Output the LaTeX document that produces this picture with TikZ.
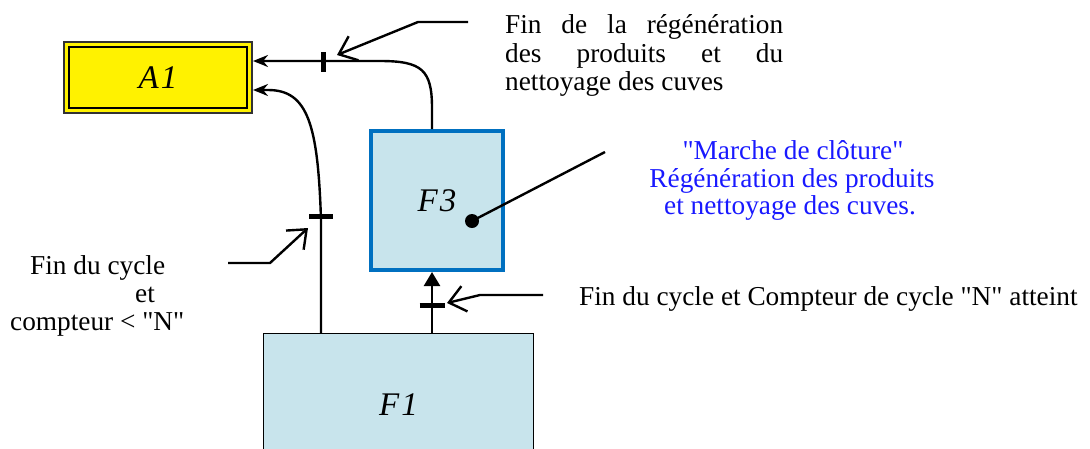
\documentclass[tikz,border=0pt]{standalone}
\usepackage{fontspec}
\setmainfont{Liberation Serif}[Ligatures=TeXOff]
\usetikzlibrary{arrows.meta}
\definecolor{boxfill}{RGB}{200,228,236}
\definecolor{boxblue}{RGB}{0,112,192}
\definecolor{txtblue}{RGB}{25,25,255}
\definecolor{darkframe}{RGB}{50,50,50}
\newcommand{\sq}{\char34\relax}
\begin{document}
\begin{tikzpicture}[x=1pt,y=-1pt,
  lbl/.style={font=\fontsize{27.3}{30}\selectfont, inner sep=0pt},
  bigit/.style={font=\fontsize{33}{36}\selectfont\itshape, inner sep=0pt},
  conn/.style={line width=2.4pt},
  pointer/.style={line width=2.4pt, -{Straight Barb[length=16pt,width=26pt]}, line join=miter},
  tickmark/.style={line width=5pt},
  headA/.style={-{Stealth[length=15pt,width=12pt]}},
  headB/.style={-{Triangle[length=14pt,width=16pt]}},
]
\useasboundingbox (0,0) rectangle (1090,448);

% boxes
\node[draw=darkframe, line width=2pt, fill=yellow, minimum width=188pt, minimum height=71pt, bigit] (A1) at (158,77.5) {A\kern2pt 1};
\draw[line width=2pt] ([shift={(6,6)}]A1.north west) rectangle ([shift={(-6,-6)}]A1.south east);
\node[draw=boxblue, line width=4pt, fill=boxfill, minimum width=132pt, minimum height=139pt, bigit] (F3) at (437,200.5) {F\kern2pt 3};
\node[draw=black, line width=1.5pt, fill=boxfill, minimum width=270pt, minimum height=142pt, bigit] (F1) at (398.5,404.5) {F\kern2pt 1};

% anchors for connectors
\coordinate (f3top) at ([shift={(-5,0)}]F3.north);
\coordinate (f3bot) at ([shift={(-5,0)}]F3.south);
\coordinate (a1up) at ([shift={(0,-16.5)}]A1.east);
\coordinate (a1lo) at ([shift={(0,12.5)}]A1.east);
\coordinate (lx) at (321,0);

% connectors
\draw[conn, headA] (f3top) -- (432,108) .. controls (432,70) and (422,61) .. (380,61) -- (a1up);
\draw[conn, headA] (F1.north -| lx) -- (321,220) .. controls (318,125) and (308,90) .. (268,90) -- (a1lo);
\draw[conn, headB] (F1.north -| f3bot) -- (f3bot);

% transition ticks
\draw[tickmark] (323,52) -- (323,72);
\draw[tickmark] (309,216) -- (333,216);
\draw[tickmark] (419.5,305) -- (444.5,305);

% pointers
\coordinate (p1a) at (468,22);
\coordinate (p1b) at (418,22);
\coordinate (p1c) at (337,55);
\draw[pointer] (p1a) -- (p1b) -- (p1c);
\coordinate (p2a) at (228,263);
\coordinate (p2b) at (270,263);
\coordinate (p2c) at (308,228);
\draw[pointer] (p2a) -- (p2b) -- (p2c);
\coordinate (p3a) at (543,295);
\coordinate (p3b) at (480,295);
\coordinate (p3c) at (447,303);
\draw[pointer] (p3a) -- (p3b) -- (p3c);
\node[circle, fill=black, inner sep=0pt, minimum size=14pt] (dot) at (472,221) {};
\coordinate (dotend) at (605,152);
\draw[line width=2.4pt] (dot.center) -- (dotend);

% texts
\node[lbl, anchor=base west] (t1) at (505,33) {\makebox[278pt][s]{Fin de la régénération}};
\node[lbl, anchor=base west] (t2) at (505,62) {\makebox[278pt][s]{des produits et du}};
\node[lbl, anchor=base west] (t3) at (505,90) {nettoyage des cuves};

\node[lbl, text=txtblue, anchor=base] (b1) at (793,159) {\sq Marche de clôture\sq};
\node[lbl, text=txtblue, anchor=base] (b2) at (792,187) {Régénération des produits};
\node[lbl, text=txtblue, anchor=base] (b3) at (790,214) {et nettoyage des cuves.};

\node[lbl, anchor=base west] (r1) at (579,305) {Fin du cycle et Compteur de cycle \sq N\sq{} atteint};

\node[lbl, anchor=base west] (l1) at (30,274) {Fin du cycle};
\node[lbl, anchor=base west] (l2) at (135,302) {et};
\node[lbl, anchor=base west] (l3) at (10,330) {compteur < \sq N\sq};
\end{tikzpicture}
\end{document}
